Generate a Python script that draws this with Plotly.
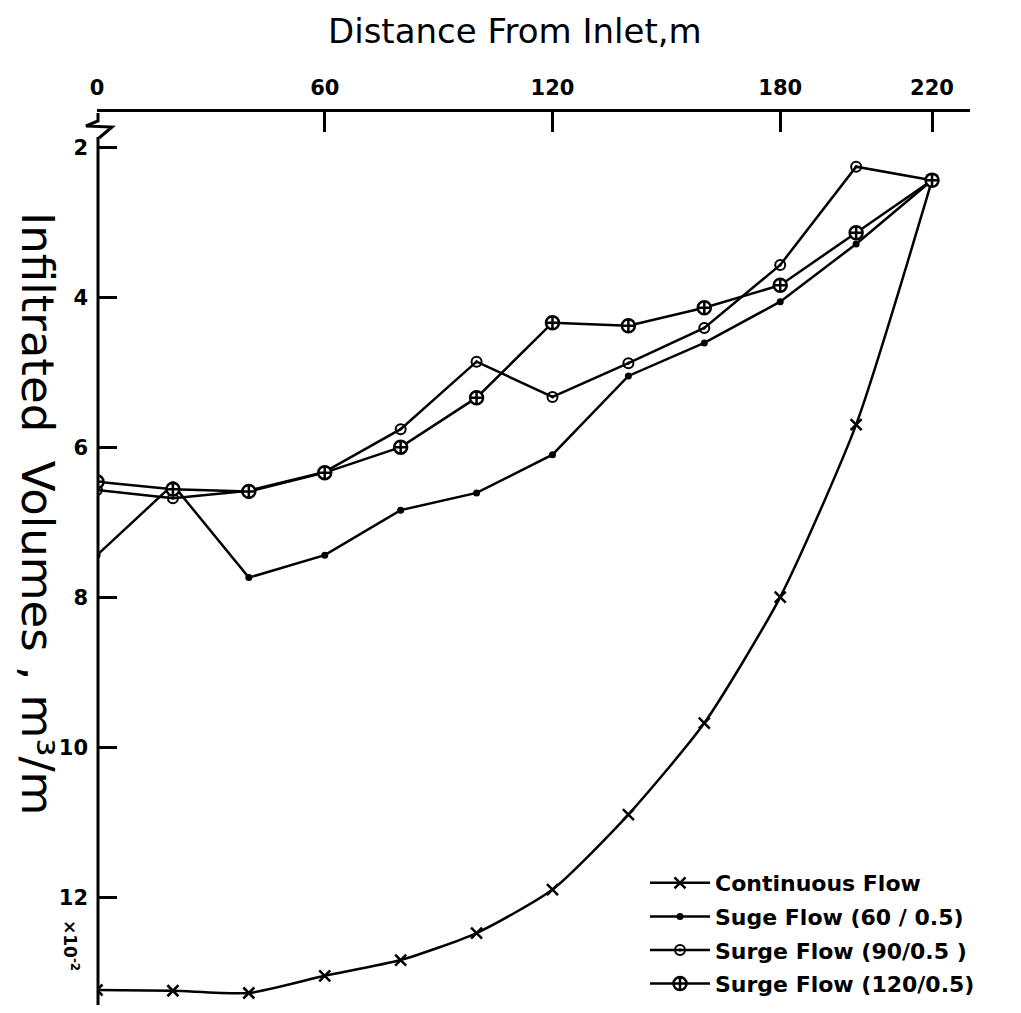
import plotly.graph_objects as go

distance = [0, 20, 40, 60, 80, 100, 120, 140, 160, 180, 200, 220]
continuous = [13.23, 13.24, 13.27, 13.04, 12.83, 12.47, 11.89, 10.89, 9.67, 7.99, 5.69, 2.43]
surge_60 = [7.43, 6.49, 7.73, 7.43, 6.83, 6.60, 6.09, 5.04, 4.60, 4.05, 3.28, 2.43]
surge_90 = [6.56, 6.67, 6.57, 6.32, 5.75, 4.85, 5.32, 4.87, 4.40, 3.56, 2.25, 2.43]
surge_120 = [6.45, 6.55, 6.58, 6.33, 5.99, 5.33, 4.33, 4.37, 4.13, 3.83, 3.13, 2.43]

names = ["Continuous Flow", "Suge Flow (60 / 0.5)", "Surge Flow (90/0.5 )", "Surge Flow (120/0.5)"]
x_ticks = [0, 60, 120, 180, 220]
y_ticks = [2, 4, 6, 8, 10, 12]

W, H = 1021, 1013
L, R, T, B = 97, 51, 112, 8
PW, PH = W - L - R, H - T - B

def px(x):
    return (x - L) / PW

def py(y):
    return (H - B - y) / PH

fig = go.Figure()
fig.add_trace(go.Scatter(x=distance, y=continuous, name=names[0], mode="lines+markers",
                         legendgroup="a",
                         line=dict(color="black", width=2.5, shape="spline", smoothing=0.6),
                         marker=dict(symbol="x-thin-open", size=11, color="black",
                                     line=dict(color="black", width=2.5))))
fig.add_trace(go.Scatter(x=distance, y=surge_60, name=names[1], mode="lines+markers",
                         legendgroup="b",
                         line=dict(color="black", width=2.5),
                         marker=dict(symbol="circle", size=7, color="black")))
fig.add_trace(go.Scatter(x=distance, y=surge_90, name=names[2], mode="lines+markers",
                         legendgroup="c",
                         line=dict(color="black", width=2.5),
                         marker=dict(symbol="circle-open-dot", size=10, color="black",
                                     line=dict(color="black", width=2))))
fig.add_trace(go.Scatter(x=distance, y=surge_120, name=names[3], mode="lines+markers",
                         legendgroup="d",
                         line=dict(color="black", width=2.5),
                         marker=dict(symbol="circle-cross", size=13, color="white",
                                     line=dict(color="black", width=2.5))))

tickfont = dict(family="DejaVu Sans", size=21, color="black", weight="bold")
fig.update_layout(
    width=W, height=H,
    margin=dict(l=L, r=R, t=T, b=B, autoexpand=False),
    paper_bgcolor="white", plot_bgcolor="white",
    showlegend=True,
    legend=dict(x=px(645), y=py(862), xanchor="left", yanchor="top",
                font=dict(family="DejaVu Sans", size=22, color="black", weight="bold"),
                bgcolor="rgba(0,0,0,0)", tracegroupgap=2, itemwidth=60),
    xaxis=dict(side="top", range=[0, 230], tickvals=x_ticks, ticktext=[str(v) for v in x_ticks],
               showgrid=False, zeroline=False, showline=True, linecolor="black", linewidth=3,
               ticks="inside", ticklen=20, tickwidth=3, tickcolor="black", tickfont=tickfont,
               ticklabelstandoff=6, automargin=False),
    yaxis=dict(range=[13.43, 1.52], tickvals=y_ticks, showgrid=False, zeroline=False,
               showline=False, ticks="inside", ticklen=20, tickwidth=3, tickcolor="black",
               tickfont=tickfont, ticklabelstandoff=8, automargin=False),
    font=dict(family="DejaVu Sans", color="black"),
)

# axis line with break symbol
fig.add_shape(type="line", xref="paper", yref="paper", x0=px(98), x1=px(98), y0=py(137), y1=py(1005),
              line=dict(color="black", width=3))
fig.add_shape(type="path", xref="paper", yref="paper",
              path=f"M {px(98)},{py(113)} L {px(98)},{py(121)} L {px(86)},{py(126)} L {px(112)},{py(127)} L {px(99)},{py(138)}",
              line=dict(color="black", width=3))

fig.add_annotation(text="Distance From Inlet,m", xref="paper", yref="paper", x=px(515), y=py(31),
                   xanchor="center", yanchor="middle", showarrow=False,
                   font=dict(family="DejaVu Sans", size=34, color="black"))
fig.add_annotation(text="Infiltrated  Volumes , m³/m", xref="paper", yref="paper",
                   x=px(38), y=py(513), xanchor="center", yanchor="middle", textangle=90, showarrow=False,
                   font=dict(family="DejaVu Sans", size=45, color="black"))
fig.add_annotation(text="×10<sup>-2</sup>", xref="paper", yref="paper", x=px(71), y=py(945),
                   xanchor="center", yanchor="middle", textangle=90, showarrow=False,
                   font=dict(family="DejaVu Sans", size=17, color="black", weight="bold"))

fig.write_html("out.html")
